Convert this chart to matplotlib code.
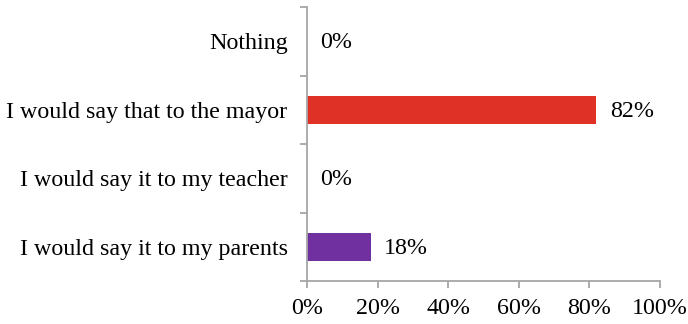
import matplotlib
matplotlib.use("Agg")
from matplotlib import pyplot as plt
from matplotlib.ticker import FixedLocator, PercentFormatter

# 衬线字体
plt.rcParams['font.family'] = ['Liberation Serif', 'DejaVu Serif']

# 选项（自下而上）和百分比
labels = ["I would say it to my parents", "I would say it to my teacher",
          "I would say that to the mayor", "Nothing"]
values = [18, 0, 82, 0]
colors = ["#7030A0", "#4F81BD", "#E03127", "#9BBB59"]

fig = plt.figure(figsize=(6.88, 3.24), dpi=100)
ax = fig.add_axes([307 / 688, 43 / 324, 353 / 688, 274 / 324])

y = list(range(len(labels)))
ax.barh(y, values, height=0.41, color=colors)

# 数值标签
for yi, v in zip(y, values):
    ax.text(v + 3.8, yi - 0.02, "{}%".format(v), va="center", ha="left", fontsize=17.3)

ax.set_xlim(0, 100)
ax.set_ylim(-0.5, len(labels) - 0.5)
ax.set_xticks(range(0, 101, 20))
ax.xaxis.set_major_formatter(PercentFormatter(decimals=0))
ax.set_yticks(y)
ax.set_yticklabels(labels)
ax.yaxis.set_minor_locator(FixedLocator([i - 0.5 for i in range(len(labels) + 1)]))

grey = "#A6A6A6"
for s in ["top", "right"]:
    ax.spines[s].set_visible(False)
for s in ["left", "bottom"]:
    ax.spines[s].set_color(grey)
    ax.spines[s].set_linewidth(1.3)

ax.tick_params(axis="y", which="major", length=0, pad=14, labelsize=17.3)
ax.tick_params(axis="y", which="minor", length=5, width=1.3, color=grey)
ax.tick_params(axis="x", length=5, width=1.3, color=grey, pad=7, labelsize=17.3)

plt.savefig("out.png", dpi=100)
